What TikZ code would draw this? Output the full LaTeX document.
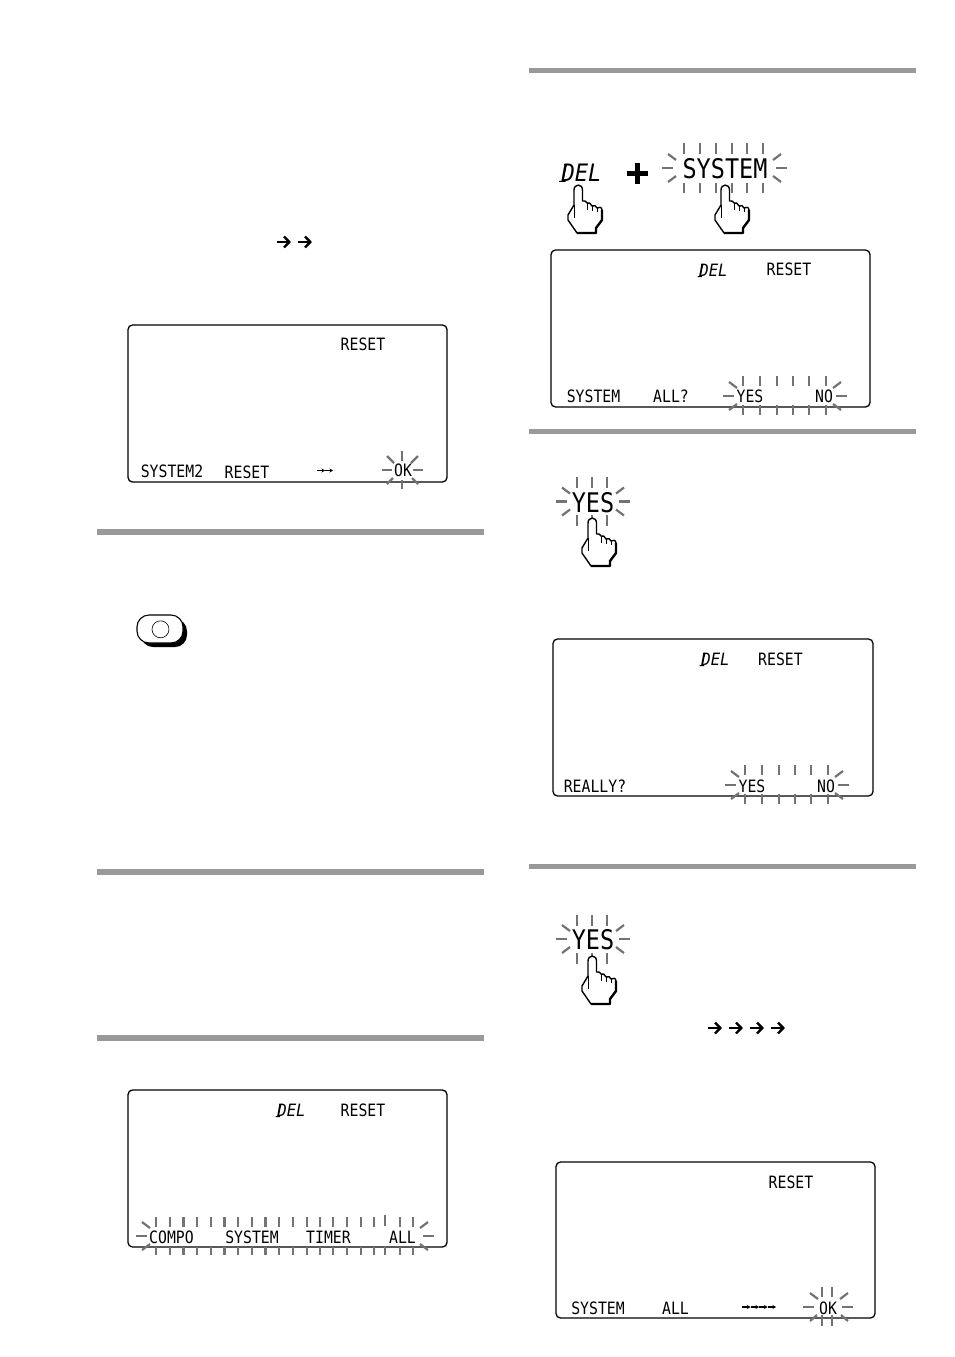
\documentclass[tikz,border=0pt]{standalone}
\usepackage{graphicx}
\usepackage{fontspec}
\setmainfont{DejaVu Sans Mono}
\setmonofont{DejaVu Sans Mono}
\usetikzlibrary{arrows.meta}
\newcommand{\narr}[1]{\scalebox{0.87}[1]{#1}}
\newcommand{\slnt}[1]{\scalebox{0.92}[1]{\itshape #1}}
\tikzset{
  x=1pt,y=-1pt,
  rulebar/.style={fill=black!40,draw=none},
  lcdbox/.style={draw=black,line width=1.3pt,rounded corners=4.5pt},
  ray/.style={draw=black!55,line width=2.2pt},
  lcd/.style={font=\fontsize{17}{18}\selectfont,inner sep=0pt,anchor=center},
  lcdbig/.style={font=\fontsize{27}{28}\selectfont,inner sep=0pt,anchor=center},
  delsmall/.style={font=\fontsize{17}{18}\selectfont,inner sep=0pt,anchor=center},
  delbig/.style={font=\fontsize{24}{25}\selectfont,inner sep=0pt,anchor=center},
  boldarrow/.style={draw=black,line width=2.4pt},
  tinyarrow/.style={draw=black,line width=1.2pt,-{Stealth[length=3.5pt,width=4pt]}},
  hand/.pic={
    \path[fill=white,draw=black,line width=1.4pt,line join=round]
      (-4,20) -- (-4,5) .. controls (-4,-1.5) and (4.5,-1.5) .. (4.5,5) -- (4.5,16)
      .. controls (6,15.5) and (8.5,16) .. (9,18)
      .. controls (10.5,17.5) and (13.5,18) .. (14,21)
      .. controls (16,20) and (18.5,20.5) .. (19,23)
      .. controls (21,21.5) and (24,22) .. (24,25)
      -- (24,35) -- (18,43) -- (18,48) -- (-1,48) -- (-10,35) -- (-10,30) -- cycle;
    \draw[black,line width=1pt] (-4,20) -- (-4,33) (9,18) -- (9,25) (14,21) -- (14,26) (19,23) -- (19,27);
    \draw[black,line width=2.4pt,line join=round] (24,25) -- (24,35) -- (18,43) -- (18,48) -- (-1,48);
  },
  righthead/.pic={
    \draw[boldarrow] (0,0) -- (11.5,0);
    \draw[boldarrow,line join=miter] (7,-5.5) -- (12.3,0) -- (7,5.5);
  },
  dstem/.pic={
    \draw[black,line width=1pt] (3.6,-6) -- (1,6) (-1.6,6) -- (3,6) (2,-6) -- (5,-6);
  }
}
\newcommand{\ticks}[5]{\foreach \tx in {#1}{\draw[ray] (\tx,#2) -- (\tx,#3); \draw[ray] (\tx,#4) -- (\tx,#5);}}
% side rays: #1 x of inner dash end, #2 y, #3 direction (+1 right end, -1 left end)
\newcommand{\sides}[3]{%
  \draw[ray] (#1,#2) -- ({#1+#3*11},#2);
  \draw[ray] ({#1-#3*3},{#2-8}) -- ({#1+#3*5},{#2-14});
  \draw[ray] ({#1-#3*3},{#2+8}) -- ({#1+#3*5},{#2+14});
}
\begin{document}
\begin{tikzpicture}
\useasboundingbox (0,0) rectangle (954,1357);
% section rules
\fill[rulebar] (97,529) rectangle (484,534.5);
\fill[rulebar] (97,869) rectangle (484,874.5);
\fill[rulebar] (97,1035) rectangle (484,1040.5);
\fill[rulebar] (529,67.5) rectangle (916,73);
\fill[rulebar] (529,428.5) rectangle (916,434);
\fill[rulebar] (529,864) rectangle (916,869);
% arrows in the left column
\pic at (277,242) {righthead};
\pic at (298,242) {righthead};
% display 1
\draw[lcdbox] (128,325) rectangle (447,482);
\draw[ray] (402,451) -- (402,461) (402,480) -- (402,489);
\draw[ray] (382,470) -- (392,470) (413,470) -- (423,470);
\draw[ray] (387,456) -- (394,463) (418,456) -- (411,463) (387,484) -- (393,478) (418,484) -- (412,478);
\node[lcd] (a1) at (363,344) {\narr{RESET}};
\node[lcd] (a2) at (172,471) {\narr{SYSTEM2}};
\node[lcd] (a3) at (247,472) {\narr{RESET}};
\node[lcd] (a4) at (403,470.5) {\narr{OK}};
\draw[tinyarrow] (317,470.5) -- (325,470.5);
\draw[tinyarrow] (325,470.5) -- (333,470.5);
% button
\fill[black,rounded corners=12pt] (141,619) rectangle (187,647);
\draw[fill=white,draw=black,line width=1.1pt,rounded corners=12pt] (137,615) rectangle (183,643);
\draw[black,line width=0.6pt] (160.5,629.3) circle (8.5);
% display 2
\draw[lcdbox] (128,1090) rectangle (447,1247);
\ticks{156,170,183.5,197,211,224.5,238,252,265.5,279,293,307,320,333,347,361,374}{1217}{1227}{1247}{1255}
\ticks{413,400}{1217}{1227}{1247}{1255}
\draw[ray] (385,1215) -- (385,1226) (385,1246) -- (385,1255);
\sides{147}{1236}{-1}
\sides{423}{1236}{1}
\node[delsmall] (b1) at (291.5,1110.5) {\slnt{DEL}};
\pic at (b1.west) {dstem};
\node[lcd] (b2) at (363,1110) {\narr{RESET}};
\node[lcd] (b3) at (171.5,1237) {\narr{COMPO}};
\node[lcd] (b4) at (252,1237) {\narr{SYSTEM}};
\node[lcd] (b5) at (328.5,1237) {\narr{TIMER}};
\node[lcd] (b6) at (402.5,1237) {\narr{ALL}};
% top right: DEL + SYSTEM
\node[delbig] (c1) at (581.5,173) {\slnt{DEL}};
\pic[scale=1.4] at (c1.west) {dstem};
\draw[black,line width=4.6pt] (627,173.5) -- (648,173.5) (637.5,163) -- (637.5,184);
\ticks{684,700,716,732,747,763}{143}{154}{183}{193}
\sides{673}{168}{-1}
\sides{776}{168}{1}
\node[lcdbig] (c2) at (725,169) {\narr{SYSTEM}};
\pic at (578,185) {hand};
\pic at (725,185) {hand};
% display R1
\draw[lcdbox] (551,250) rectangle (870,407);
\ticks{743,760,777,793,809,826}{376}{386}{405}{415}
\sides{734}{396}{-1}
\sides{836}{396}{1}
\node[delsmall] (d1) at (713.5,270.5) {\slnt{DEL}};
\pic at (d1.west) {dstem};
\node[lcd] (d2) at (789,269.5) {\narr{RESET}};
\node[lcd] (d3) at (593.5,396.5) {\narr{SYSTEM}};
\node[lcd] (d4) at (671,396.5) {\narr{ALL?}};
\node[lcd] (d5) at (750,396.5) {\narr{YES}};
\node[lcd] (d6) at (824,396.5) {\narr{NO}};
% YES press 1
\ticks{577,592,607}{477}{488}{515}{526}
\sides{567}{501.5}{-1}
\sides{619}{501.5}{1}
\node[lcdbig] (e1) at (593,502.5) {\narr{YES}};
\pic at (592,518) {hand};
% display R2
\draw[lcdbox] (553,639) rectangle (873,796);
\ticks{745,762,779,795,811,828}{765}{775}{794}{804}
\sides{736}{785}{-1}
\sides{838}{785}{1}
\node[delsmall] (f1) at (715.5,659.5) {\slnt{DEL}};
\pic at (f1.west) {dstem};
\node[lcd] (f2) at (780.5,659) {\narr{RESET}};
\node[lcd] (f3) at (595,786) {\narr{REALLY?}};
\node[lcd] (f4) at (752,786) {\narr{YES}};
\node[lcd] (f5) at (826,786) {\narr{NO}};
% YES press 2
\ticks{577,592,607}{915}{926}{953}{964}
\sides{567}{939}{-1}
\sides{619}{939}{1}
\node[lcdbig] (g1) at (593,940) {\narr{YES}};
\pic at (592,956) {hand};
\pic at (708,1028) {righthead};
\pic at (729,1028) {righthead};
\pic at (750,1028) {righthead};
\pic at (771,1028) {righthead};
% display R3
\draw[lcdbox] (556,1162) rectangle (875,1318);
\ticks{822,832}{1287}{1297}{1315}{1326}
\draw[ray] (803,1307) -- (814,1307) (842,1307) -- (853,1307);
\draw[ray] (810,1293) -- (818,1299) (848,1293) -- (840,1299) (810,1321) -- (817,1315) (848,1321) -- (841,1315);
\node[lcd] (h1) at (791,1182) {\narr{RESET}};
\node[lcd] (h2) at (598,1308) {\narr{SYSTEM}};
\node[lcd] (h3) at (675.5,1308) {\narr{ALL}};
\node[lcd] (h4) at (828,1308) {\narr{OK}};
\draw[tinyarrow] (742,1307) -- (750.5,1307);
\draw[tinyarrow] (750.5,1307) -- (759,1307);
\draw[tinyarrow] (759,1307) -- (767.5,1307);
\draw[tinyarrow] (767.5,1307) -- (776,1307);
\end{tikzpicture}
\end{document}
